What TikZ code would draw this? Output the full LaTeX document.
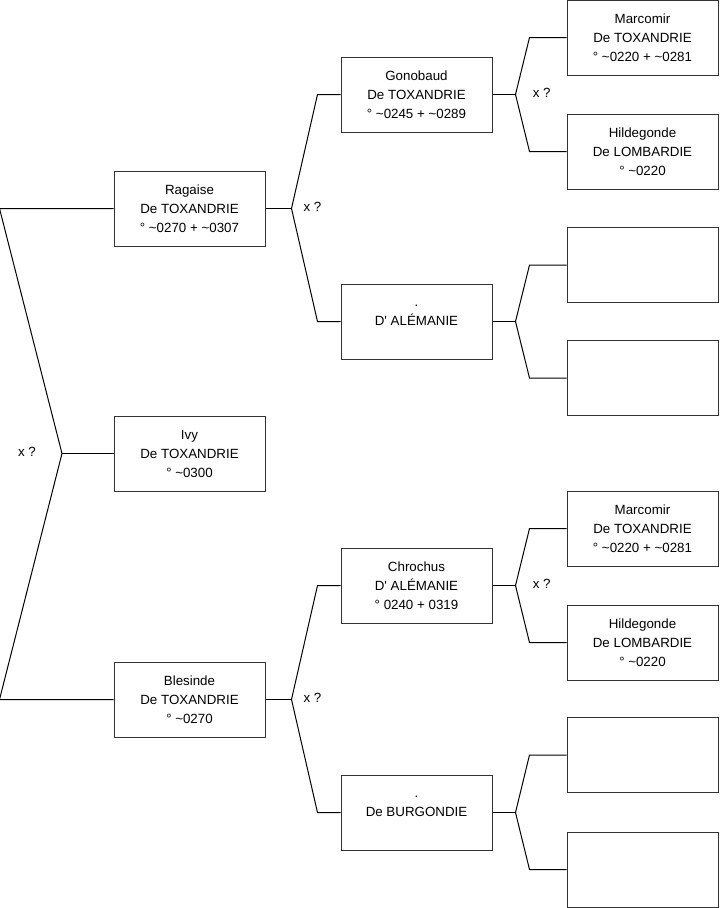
\documentclass[tikz,border=0pt]{standalone}
\usepackage{fontspec}
\setmainfont{Liberation Sans}
\begin{document}
\begin{tikzpicture}[x=0.75pt, y=-0.75pt, font=\fontsize{10}{14.25}\selectfont,
        person/.style={draw=black!80, line width=0.75pt, minimum width=113.25pt, minimum height=56.25pt, align=center, inner sep=0pt},
        link/.style={line width=0.75pt}]
    \useasboundingbox (0,0) rectangle (719,908);
    % first generation
    \node[person] (ragaise) at (189.5,208.5) {Ragaise\\De TOXANDRIE\\° \textasciitilde0270 + \textasciitilde0307};
    \node[person] (ivy) at (189.5,453.5) {Ivy\\De TOXANDRIE\\° \textasciitilde0300};
    \node[person] (blesinde) at (189.5,699.5) {Blesinde\\De TOXANDRIE\\° \textasciitilde0270};
    % second generation
    \node[person] (gonobaud) at (416.5,94.5) {Gonobaud\\De TOXANDRIE\\° \textasciitilde0245 + \textasciitilde0289};
    \node[person] (alemanie) at (416.5,321.5) {\strut.\\D\textquotesingle{} ALÉMANIE\\\strut};
    \node[person] (chrochus) at (416.5,585.5) {Chrochus\\D\textquotesingle{} ALÉMANIE\\° 0240 + 0319};
    \node[person] (burgondie) at (416.5,812.5) {\strut.\\De BURGONDIE\\\strut};
    % third generation
    \node[person] (marcomirA) at (642.5,37.5) {Marcomir\\De TOXANDRIE\\° \textasciitilde0220 + \textasciitilde0281};
    \node[person] (hildegondeA) at (642.5,151.5) {Hildegonde\\De LOMBARDIE\\° \textasciitilde0220};
    \node[person] (emptyA) at (642.5,265) {};
    \node[person] (emptyB) at (642.5,378) {};
    \node[person] (marcomirB) at (642.5,528.5) {Marcomir\\De TOXANDRIE\\° \textasciitilde0220 + \textasciitilde0281};
    \node[person] (hildegondeB) at (642.5,642.5) {Hildegonde\\De LOMBARDIE\\° \textasciitilde0220};
    \node[person] (emptyC) at (642.5,755) {};
    \node[person] (emptyD) at (642.5,869.5) {};

    % left fork
    \coordinate (root) at (62,453.5);
    \draw[link] (ragaise.west) -- ++(-114,0) -- (root);
    \draw[link] (blesinde.west) -- ++(-114,0) -- (root);
    \draw[link] (ivy.west) -- (root);
    \node (xroot) at (27,452) {x ?};

    % forks to the right
    \foreach \p/\a/\b/\s/\t in {ragaise/gonobaud/alemanie/26/23, blesinde/chrochus/burgondie/26/23,
            gonobaud/marcomirA/hildegondeA/23/37, alemanie/emptyA/emptyB/23/37,
            chrochus/marcomirB/hildegondeB/23/37, burgondie/emptyC/emptyD/23/37}{
        \draw[link] (\p.east) -- ++(\s,0) coordinate (\p-fork);
        \draw[link] (\a.west) -- ++(-\t,0) -- (\p-fork);
        \draw[link] (\b.west) -- ++(-\t,0) -- (\p-fork);
    }
    \node[anchor=west] (xragaise) at ([xshift=5.5pt,yshift=1pt]ragaise-fork) {x ?};
    \node[anchor=west] (xblesinde) at ([xshift=5.5pt,yshift=1pt]blesinde-fork) {x ?};
    \node[anchor=west] (xgonobaud) at ([xshift=9.5pt,yshift=1.5pt]gonobaud-fork) {x ?};
    \node[anchor=west] (xchrochus) at ([xshift=9.5pt,yshift=1.5pt]chrochus-fork) {x ?};
\end{tikzpicture}
\end{document}
